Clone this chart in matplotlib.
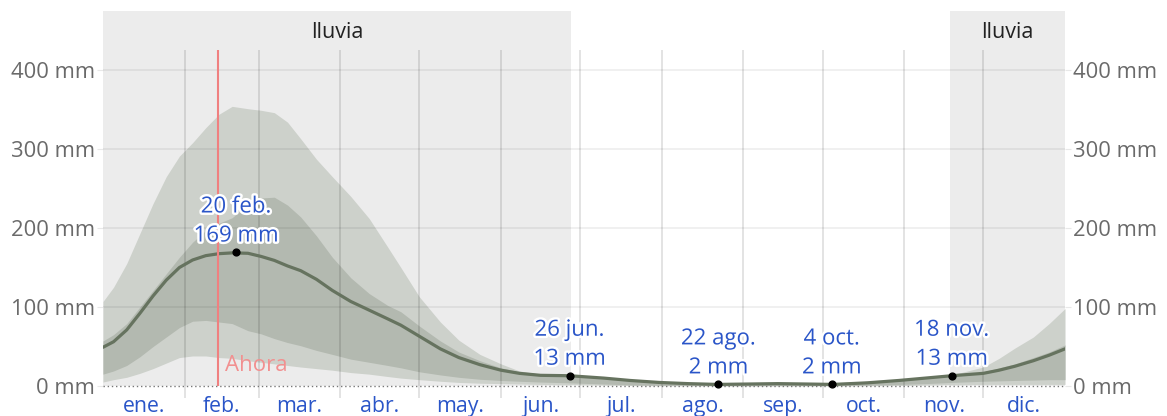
import matplotlib
matplotlib.use("Agg")
import matplotlib.pyplot as plt
import matplotlib.patheffects as pe

# ---------------- data ----------------
days = [0, 4, 9, 14, 19, 24, 29, 34, 39, 44, 49, 55, 60, 65, 70, 75, 81, 87,
        94, 101, 108, 113, 120, 128, 135, 143, 151, 158, 166, 177, 190, 200,
        211, 222, 233, 245, 256, 267, 277, 290, 302, 312, 322, 334, 340, 346,
        353, 359, 365]
p90 = [107, 125, 155, 193, 231, 265, 291, 308, 327, 344, 354, 351, 349, 346,
       334, 313, 287, 265, 240, 212, 176, 150, 113, 81, 58, 40, 28, 19, 15,
       13, 10, 7, 5, 4, 3, 3, 3.5, 4, 4, 6, 8, 11, 14, 24, 35, 48, 62, 79, 98]
p75 = [57, 65, 79, 100, 121, 142, 163, 182, 197, 206, 213, 230, 238, 239,
       229, 214, 190, 163, 137, 117, 102, 94, 76, 57, 43, 32, 23, 18, 15,
       13, 10, 7, 4, 3, 2.5, 2.5, 3, 3, 3, 5, 7.5, 10, 13, 18, 23, 28, 36, 43, 52]
mean = [49, 56, 71, 92, 114, 134, 150, 159.5, 165, 167.5, 168.5, 168, 164, 159,
        152, 146, 135, 121, 107, 96, 85, 77, 63, 47, 36, 27, 20, 16, 13.5,
        13, 10, 7, 4.5, 3, 2, 2.5, 3, 2.5, 2, 4, 7, 10, 13, 16, 20, 25, 32, 39, 47]
p25 = [15, 19, 26, 37, 50, 62, 74, 82, 83, 81, 79, 70, 66, 60, 55, 51, 45,
       40, 34, 30, 26, 23, 18, 14, 11, 8.5, 7, 6, 5, 4, 2.5, 1.5, 1, 0.7,
       0.5, 0.5, 0.6, 0.6, 0.6, 1, 2, 3, 4.5, 6, 6.5, 7, 7.5, 8, 8]
p10 = [5, 8, 11, 16, 22, 29, 36, 38, 38, 36, 35, 32, 30, 28, 26, 24, 22, 20,
       17, 15, 12, 10, 8, 6, 4.5, 3.5, 3, 2.5, 2, 1.5, 1, 0.6, 0.3, 0.2,
       0.1, 0.1, 0.1, 0.1, 0.1, 0.3, 0.6, 1, 1.5, 2, 2, 2, 2, 2, 2]

month_labels = ["ene.", "feb.", "mar.", "abr.", "may.", "jun.",
                "jul.", "ago.", "sep.", "oct.", "nov.", "dic."]
month_starts = [0, 31, 59, 90, 120, 151, 181, 212, 243, 273, 304, 334, 365]

wet_periods = [(0, 177.5), (321.5, 365)]
wet_label = "lluvia"

ann_days = [50.5, 177.0, 233.5, 276.5, 322.0]
ann_vals = [169, 13, 2, 2, 13]
ann_texts = ["20 feb.\n169 mm", "26 jun.\n13 mm", "22 ago.\n2 mm",
             "4 oct.\n2 mm", "18 nov.\n13 mm"]

now_day = 43.6
now_label = "Ahora"

yticks = [0, 100, 200, 300, 400]

# ---------------- figure ----------------
plt.rcParams['font.family'] = ['Open Sans', 'DejaVu Sans']
W, H = 1167, 416
fig = plt.figure(figsize=(W / 100, H / 100), dpi=100)
ax = fig.add_axes([103 / W, (H - 398) / H, (1065 - 103) / W, (398 - 11) / H])

ymin, ymax = -15.2, 474.7
ax.set_xlim(0, 365)
ax.set_ylim(ymin, ymax)

# wet season background
for s, e in wet_periods:
    ax.fill_between([s, e], 0, ymax, color="#ececec", lw=0, zorder=0)
    ax.text((s + e) / 2, 447, wet_label, ha="center", va="center",
            fontsize=15.5, color="#222222", zorder=6)

# bands
ax.fill_between(days, p10, p90, color="#cdd1cb", lw=0, zorder=1)
ax.fill_between(days, p25, p75, color="#b3b9b0", lw=0, zorder=2)

# grid lines
for v in yticks[1:]:
    ax.axhline(v, color="black", alpha=0.07, lw=1.2, zorder=3)
ax.vlines(month_starts[1:-1], ymin, 425, color="black", alpha=0.13, lw=1.2, zorder=3)
ax.axhline(0, color="#777777", lw=1.0, ls=(0, (1, 2)), zorder=3)

# mean line
ax.plot(days, mean, color="#66735f", lw=2.3, zorder=4,
        solid_capstyle="round", solid_joinstyle="round")

# now line
ax.vlines([now_day], 0, 425, color="#f08080", lw=1.5, zorder=5)
ax.text(now_day + 2.5, 26.5, now_label, color="#f29090", fontsize=16,
        ha="left", va="center", zorder=6)

# annotations
halo = [pe.withStroke(linewidth=3.5, foreground="white")]
ax.scatter(ann_days, ann_vals, s=24, color="black", zorder=7)
for d, v, t in zip(ann_days, ann_vals, ann_texts):
    ax.annotate(t, (d, v), xytext=(0, 6), textcoords="offset pixels",
                ha="center", va="bottom", fontsize=16, color="#2a55c8",
                linespacing=1.5, path_effects=halo, zorder=8)

# ticks
ax.set_yticks(yticks)
ax.set_yticklabels([f"{v} mm" for v in yticks])
ax.tick_params(axis="y", length=4, color="#e8e8e8", labelsize=15.8,
               labelcolor="#6a6a6a", pad=2, left=True, right=True,
               labelleft=True, labelright=True)
mids = [(month_starts[i] + month_starts[i + 1]) / 2 for i in range(12)]
ax.set_xticks(mids)
ax.set_xticklabels(month_labels)
ax.tick_params(axis="x", length=0, labelsize=15.3, labelcolor="#2a55c8", pad=-1.5)

for s in ax.spines.values():
    s.set_visible(False)
ax.set_facecolor("none")
fig.patch.set_facecolor("white")

fig.savefig("out.png", dpi=100)
